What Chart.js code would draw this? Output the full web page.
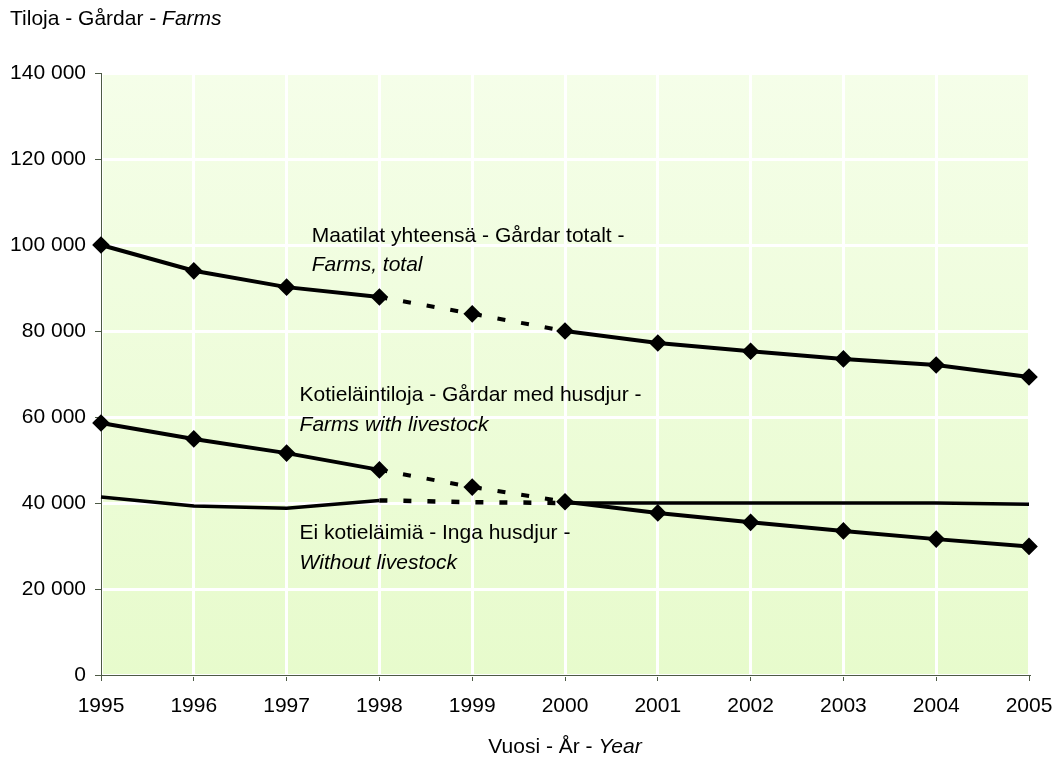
<!DOCTYPE html>
<html>
<head>
<meta charset="utf-8">
<script src="https://cdn.jsdelivr.net/npm/chart.js@4.4.1/dist/chart.umd.min.js"></script>
<style>
  body { margin: 0; background: #fff; overflow: hidden; }
  #wrap { width: 1056px; height: 758px; }
</style>
</head>
<body>
<div id="wrap"><canvas id="chart"></canvas></div>
<script>
const years = ['1995', '1996', '1997', '1998', '1999', '2000', '2001', '2002', '2003', '2004', '2005'];
const farmsTotal = [100000, 94000, 90200, 87900, 84000, 80000, 77200, 75300, 73500, 72100, 69300];
const withLivestock = [58600, 54900, 51600, 47700, 43700, 40300, 37700, 35500, 33500, 31600, 29900];
const withoutLivestock = [41400, 39300, 38800, 40600, 40200, 40000, 40000, 40000, 40000, 40000, 39700];
const yTicks = [0, 20000, 40000, 60000, 80000, 100000, 120000, 140000];

const font = '"Liberation Sans", Arial, sans-serif';
const fontSize = 21;
const axisColor = '#4d5a45';

// 1998-2000 are drawn dashed in the original
const inGap = ctx => ctx.p0DataIndex >= 3 && ctx.p1DataIndex <= 5;
const dashed = ctx => inGap(ctx) ? [8, 16] : undefined;

// text next to the lines, anchored to data positions: [xIndex, yValue, parts]
const notes = [
  [2.27, 102100, [['Maatilat yhteensä - Gårdar totalt -', '']]],
  [2.27, 95300, [['Farms, total', 'italic ']]],
  [2.14, 65100, [['Kotieläintiloja - Gårdar med husdjur -', '']]],
  [2.14, 58100, [['Farms with livestock', 'italic ']]],
  [2.14, 33000, [['Ei kotieläimiä - Inga husdjur -', '']]],
  [2.14, 26000, [['Without livestock', 'italic ']]]
];

function drawParts(c, parts, x, y, align) {
  let total = 0;
  parts.forEach(p => { c.font = p[1] + fontSize + 'px ' + font; total += c.measureText(p[0]).width; });
  let cx = align === 'center' ? x - total / 2 : x;
  parts.forEach(p => {
    c.font = p[1] + fontSize + 'px ' + font;
    c.fillText(p[0], cx, y);
    cx += c.measureText(p[0]).width;
  });
}

const bgPlugin = {
  id: 'bg',
  beforeDraw(chart) {
    const c = chart.ctx, a = chart.chartArea;
    c.save();
    c.fillStyle = '#fff';
    c.fillRect(0, 0, chart.width, chart.height);
    const g = c.createLinearGradient(0, a.top, 0, a.bottom);
    g.addColorStop(0, '#f5fee9');
    g.addColorStop(1, '#e7fbcc');
    c.fillStyle = g;
    c.fillRect(a.left, a.top, a.right - a.left, a.bottom - a.top);
    c.restore();
  }
};

const textPlugin = {
  id: 'texts',
  afterDraw(chart) {
    const c = chart.ctx, xs = chart.scales.x, ys = chart.scales.y;
    c.save();
    c.fillStyle = '#000';
    c.textBaseline = 'middle';
    c.textAlign = 'left';
    drawParts(c, [['Tiloja - Gårdar - ', ''], ['Farms', 'italic ']], 10, 19, 'left');
    drawParts(c, [['Vuosi - År - ', ''], ['Year', 'italic ']], (xs.left + xs.right) / 2, 747, 'center');
    notes.forEach(n => {
      drawParts(c, n[2], xs.getPixelForValue(n[0]), ys.getPixelForValue(n[1]), 'left');
    });
    c.restore();
  }
};

new Chart(document.getElementById('chart'), {
  type: 'line',
  data: {
    labels: years,
    datasets: [
      { label: 'Maatilat yhteensä', data: farmsTotal, borderColor: '#000', backgroundColor: '#000',
        borderWidth: 4, pointStyle: 'rectRot', pointRadius: 6, pointHoverRadius: 6, segment: { borderDash: dashed } },
      { label: 'Kotieläintiloja', data: withLivestock, borderColor: '#000', backgroundColor: '#000',
        borderWidth: 4, pointStyle: 'rectRot', pointRadius: 6, pointHoverRadius: 6, segment: { borderDash: dashed } },
      { label: 'Ei kotieläimiä', data: withoutLivestock, borderColor: '#000',
        borderWidth: 3.5, pointRadius: 0,
        segment: { borderDash: dashed, borderWidth: ctx => inGap(ctx) ? 4.5 : undefined } }
    ]
  },
  options: {
    responsive: true,
    maintainAspectRatio: false,
    animation: false,
    events: [],
    layout: { autoPadding: false, padding: { top: 73, right: 27, left: 0, bottom: 0 } },
    plugins: { legend: { display: false }, title: { display: false }, tooltip: { enabled: false } },
    elements: { line: { tension: 0, borderCapStyle: 'butt' } },
    scales: {
      x: {
        offset: false,
        afterFit(s) { s.height = 83; s.paddingLeft = 0; s.paddingRight = 0; },
        grid: { color: '#fff', lineWidth: 3, tickColor: axisColor, tickWidth: 1, tickLength: 6 },
        border: { color: axisColor, width: 1 },
        ticks: { color: '#000', padding: 13, maxRotation: 0, font: { family: font, size: fontSize } }
      },
      y: {
        min: 0,
        max: 140000,
        afterFit(s) { s.width = 101; s.paddingTop = 0; s.paddingBottom = 0; },
        afterBuildTicks(s) { s.ticks = yTicks.map(v => ({ value: v })); },
        grid: { color: '#fff', lineWidth: 3, tickColor: axisColor, tickWidth: 1, tickLength: 6 },
        border: { color: axisColor, width: 1 },
        ticks: {
          color: '#000', padding: 9, font: { family: font, size: fontSize },
          callback: v => String(v).replace(/\B(?=(\d{3})+(?!\d))/g, ' ')
        }
      }
    }
  },
  plugins: [bgPlugin, textPlugin]
});
</script>
</body>
</html>
